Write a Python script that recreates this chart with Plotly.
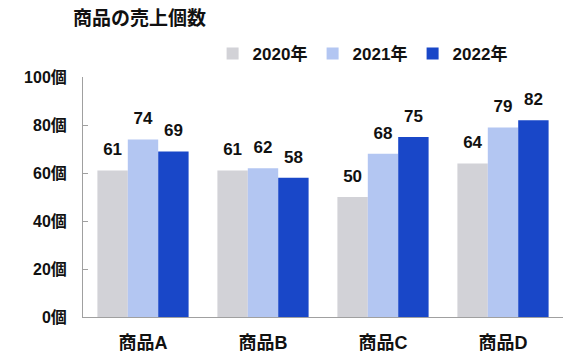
import plotly.graph_objects as go

categories = ["商品A", "商品B", "商品C", "商品D"]
series_names = ["2020年", "2021年", "2022年"]
values_2020 = [61, 61, 50, 64]
values_2021 = [74, 62, 68, 79]
values_2022 = [69, 58, 75, 82]
y_tick_vals = [0, 20, 40, 60, 80, 100]
y_tick_text = ["0個", "20個", "40個", "60個", "80個", "100個"]

colors = ["#D2D2D7", "#B3C6F2", "#1947C8"]
font_family = "Liberation Sans, Arial, Noto Sans CJK JP, sans-serif"
GAP = 0.24

fig = go.Figure()
all_values = [values_2020, values_2021, values_2022]
for i, (name, vals, col) in enumerate(zip(series_names, all_values, colors)):
    fig.add_trace(go.Bar(
        x=categories, y=vals, name=name,
        marker=dict(color=col, line=dict(width=0)),
        offsetgroup=str(i),
        hoverinfo="x+y+name",
    ))
# value labels, grouped the same way as the bars
for i, (name, vals) in enumerate(zip(series_names, all_values)):
    fig.add_trace(go.Scatter(
        x=categories, y=vals, mode="markers+text",
        text=[str(v) for v in vals], textposition="top center",
        textfont=dict(size=17, color="#111111", family=font_family, weight="bold"),
        marker=dict(size=16, opacity=0),
        offsetgroup=str(i), showlegend=False, hoverinfo="skip",
        cliponaxis=False,
    ))

fig.update_layout(
    width=583, height=363,
    margin=dict(l=83, r=20, t=77, b=46, autoexpand=False),
    paper_bgcolor="white", plot_bgcolor="white",
    barmode="group", bargap=GAP, bargroupgap=0,
    scattermode="group", scattergap=GAP,
    font=dict(family=font_family, color="#111111"),
    title=dict(text="<b>商品の売上個数</b>", x=73/583, xanchor="left", xref="container",
               y=1 - 18/363, yanchor="middle", yref="container",
               font=dict(size=19, family=font_family, color="#111111")),
    showlegend=True,
    legend=dict(orientation="h", x=0.27, xanchor="left", y=1.096, yanchor="middle",
                font=dict(size=17, family=font_family, color="#111111", weight="bold"),
                entrywidth=55, itemclick=False, bgcolor="rgba(0,0,0,0)"),
)
fig.update_xaxes(
    showline=True, linecolor="#A0A0A0", linewidth=1,
    showgrid=False, ticks="", ticklabelstandoff=9, automargin=False,
    tickfont=dict(size=18, family=font_family, color="#111111", weight="bold"),
)
fig.update_yaxes(
    range=[0, 100], showline=True, linecolor="#A0A0A0", linewidth=1,
    showgrid=False, zeroline=False, automargin=False,
    ticks="inside", ticklen=5, tickcolor="#A0A0A0",
    tickvals=y_tick_vals, ticktext=y_tick_text, ticklabelstandoff=12,
    tickfont=dict(size=16, family=font_family, color="#111111", weight="bold"),
)

fig.write_html("out.html", config={"displayModeBar": False},
               post_script="document.body.style.margin='0';")
